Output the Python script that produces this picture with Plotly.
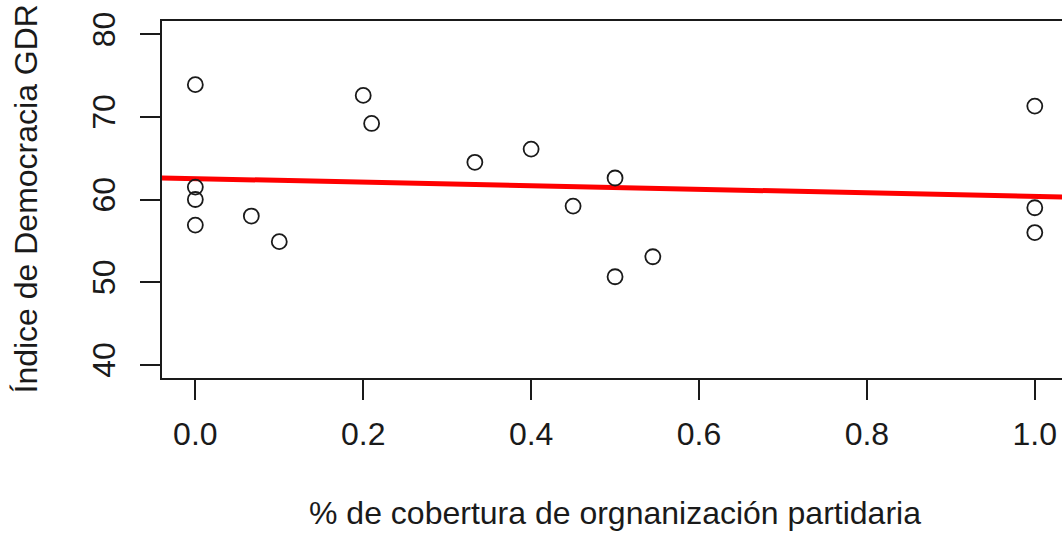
import numpy as np
import plotly.graph_objects as go

# Data
cobertura = [0, 0, 0, 0, 0.0667, 0.1, 0.2, 0.21, 0.333, 0.4, 0.45, 0.5, 0.5, 0.545, 1, 1, 1]
democracia = [73.9, 61.5, 60.0, 56.9, 58.0, 54.9, 72.6, 69.2, 64.5, 66.1, 59.2, 62.6, 50.65, 53.07, 71.3, 59.0, 56.0]

x_ticks = [0.0, 0.2, 0.4, 0.6, 0.8, 1.0]
x_tick_labels = ["0.0", "0.2", "0.4", "0.6", "0.8", "1.0"]
y_ticks = [40, 50, 60, 70, 80]
y_tick_labels = ["40", "50", "60", "70", "80"]

x_label = "% de cobertura de orgnanización partidaria"
y_label = "Índice de Democracia GDR"

# Linear regression (as abline(lm(y ~ x)))
slope, intercept = np.polyfit(np.array(cobertura), np.array(democracia), 1)
line_x = [-0.2, 1.2]
line_y = [intercept + slope * v for v in line_x]

FONT = "Liberation Sans, Arial, sans-serif"
INK = "#1a1a1a"

fig = go.Figure()
fig.add_trace(go.Scatter(
    x=line_x, y=line_y, mode="lines",
    line=dict(color="#ff0000", width=5),
    hoverinfo="skip", showlegend=False,
))
fig.add_trace(go.Scatter(
    x=cobertura, y=democracia, mode="markers",
    marker=dict(symbol="circle-open", size=15, color=INK, line=dict(width=1.8, color=INK)),
    showlegend=False,
))

fig.update_layout(
    width=1062, height=537,
    margin=dict(l=162, r=0, t=21, b=159, pad=0),
    paper_bgcolor="white", plot_bgcolor="white",
    font=dict(family=FONT, size=32, color=INK),
    xaxis=dict(
        range=[-0.0397, 1.0324], autorange=False,
        tickvals=x_ticks, ticktext=x_tick_labels,
        ticks="outside", ticklen=20, tickwidth=1.5, tickcolor=INK,
        showline=True, linewidth=1.5, linecolor=INK, mirror=True,
        showgrid=False, zeroline=False,
        tickfont=dict(size=32, color=INK, family=FONT),
        ticklabelstandoff=7,
    ),
    yaxis=dict(
        range=[38.4, 81.6], autorange=False,
        tickvals=y_ticks, ticktext=y_tick_labels,
        ticks="outside", ticklen=20, tickwidth=1.5, tickcolor=INK,
        showline=True, linewidth=1.5, linecolor=INK, mirror=False,
        showgrid=False, zeroline=False, tickangle=-90,
        tickfont=dict(size=32, color=INK, family=FONT),
        ticklabelstandoff=12,
    ),
    annotations=[
        dict(text=x_label, xref="x", yref="paper", x=0.5, y=0,
             xanchor="center", yanchor="middle", yshift=-(513 - 378),
             showarrow=False, font=dict(size=32, color=INK, family=FONT)),
        dict(text=y_label, xref="paper", yref="paper", x=0, y=0.5,
             xanchor="center", yanchor="middle", xshift=-(162 - 25), textangle=-90,
             showarrow=False, font=dict(size=32, color=INK, family=FONT)),
    ],
)

fig.write_html("out.html")
